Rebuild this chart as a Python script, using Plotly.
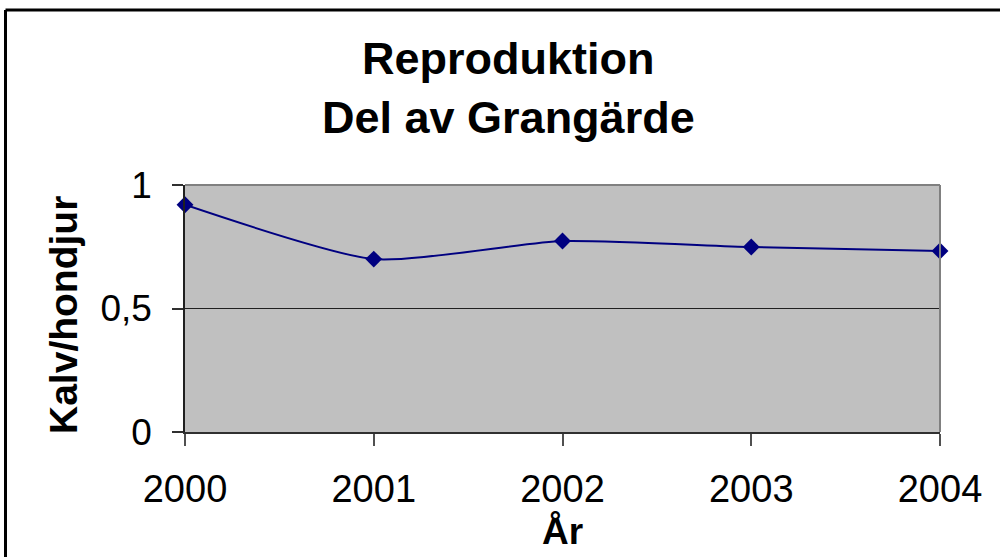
import plotly.graph_objects as go

years = ["2000", "2001", "2002", "2003", "2004"]
ratio = [0.92, 0.70, 0.773, 0.749, 0.733]
y_ticks = [0, 0.5, 1]
y_tick_labels = ["0", "0,5", "1"]

W, H = 1000, 557
L, R, T, B = 185, 60, 185, 125
pw, ph = W - L - R, H - T - B

def px_x(p):
    return (p - L) / pw

def px_y(p):
    return (H - B - p) / ph

fig = go.Figure()
fig.add_trace(go.Scatter(
    x=years, y=ratio, mode="lines+markers",
    line=dict(color="#000080", width=2, shape="spline", smoothing=0.6),
    marker=dict(symbol="diamond", size=13, color="#000080"),
    cliponaxis=False, showlegend=False,
))

font = "Arial, Liberation Sans, sans-serif"
fig.update_layout(
    width=W, height=H,
    margin=dict(l=L, r=R, t=T, b=B),
    paper_bgcolor="white", plot_bgcolor="#C0C0C0",
    font=dict(family=font, color="black"),
    xaxis=dict(
        type="category", range=[0, 4], showgrid=False,
        showline=True, linecolor="#303030", linewidth=1.5,
        ticks="outside", ticklen=12, tickcolor="#505050", tickwidth=1.5,
        tickfont=dict(size=38, family=font), ticklabelstandoff=11,
        zeroline=False,
    ),
    yaxis=dict(
        range=[0, 1], tickvals=y_ticks, ticktext=y_tick_labels,
        showgrid=True, gridcolor="#202020", gridwidth=1,
        showline=True, linecolor="#202020", linewidth=1.5,
        ticks="outside", ticklen=11, tickcolor="#303030", tickwidth=1.5,
        tickfont=dict(size=37, family=font), ticklabelstandoff=13,
        zeroline=False,
    ),
    annotations=[
        dict(
            text="<b>Reproduktion<br>Del av Grangärde</b>",
            xref="paper", yref="paper", x=px_x(508), y=px_y(88),
            xanchor="center", yanchor="middle", showarrow=False,
            font=dict(size=45, family=font),
        ),
        dict(
            text="<b>År</b>",
            xref="paper", yref="paper", x=px_x(562), y=px_y(531),
            xanchor="center", yanchor="middle", showarrow=False,
            font=dict(size=37, family=font),
        ),
        dict(
            text="<b>Kalv/hondjur</b>",
            xref="paper", yref="paper", x=px_x(63), y=px_y(315),
            xanchor="center", yanchor="middle", showarrow=False, textangle=-90,
            font=dict(size=39, family=font),
        ),
    ],
    shapes=[
        dict(type="line", xref="paper", yref="paper", x0=0, x1=1, y0=1, y1=1,
             line=dict(color="#808080", width=2), layer="above"),
        dict(type="line", xref="paper", yref="paper", x0=1, x1=1, y0=0, y1=1,
             line=dict(color="#808080", width=2), layer="above"),
        dict(type="line", xref="paper", yref="paper", x0=px_x(5.5), x1=px_x(1005),
             y0=px_y(10), y1=px_y(10), line=dict(color="black", width=3)),
        dict(type="line", xref="paper", yref="paper", x0=px_x(5.5), x1=px_x(5.5),
             y0=px_y(10), y1=px_y(565), line=dict(color="black", width=3)),
    ],
)

fig.write_html("out.html", config={"displayModeBar": False},
               post_script="document.body.style.margin='0';")
